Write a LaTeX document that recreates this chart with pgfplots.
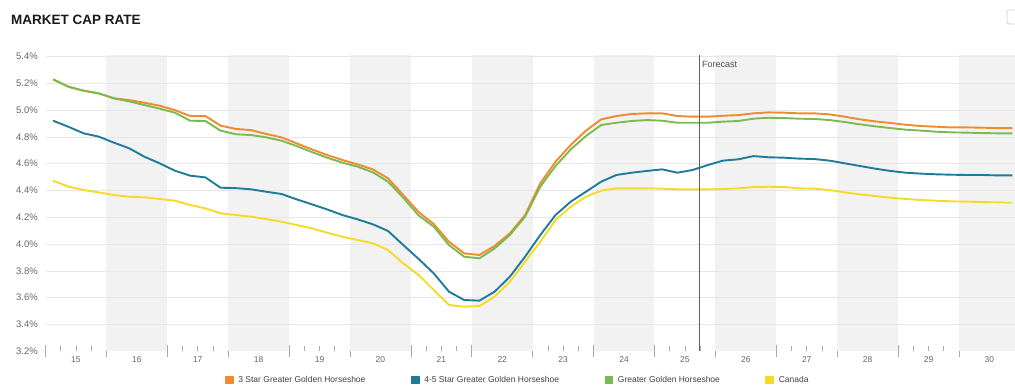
\documentclass[border=0pt]{standalone}
\usepackage{pgfplots}
\pgfplotsset{compat=1.18}
\usepackage{pgfplotstable}
\usepackage{fontspec}
\setmainfont{Liberation Sans}
\definecolor{cOr}{HTML}{F08A2C}
\definecolor{cBl}{HTML}{1F7B9A}
\definecolor{cGr}{HTML}{7BBA4F}
\definecolor{cYe}{HTML}{F6DB26}
\definecolor{band}{HTML}{F2F2F2}
\definecolor{gridc}{HTML}{E6E6E6}
\definecolor{tickc}{HTML}{666666}
\definecolor{tickl}{HTML}{AAAAAA}

\pgfplotstableread{
x o b g y
15.125 5.230 4.921 5.230 4.473
15.375 5.175 4.876 5.175 4.429
15.625 5.145 4.827 5.145 4.404
15.875 5.125 4.802 5.125 4.386
16.125 5.088 4.757 5.088 4.366
16.375 5.075 4.715 5.065 4.354
16.625 5.055 4.652 5.038 4.349
16.875 5.033 4.603 5.011 4.337
17.125 5.000 4.548 4.981 4.324
17.375 4.956 4.511 4.921 4.292
17.625 4.956 4.498 4.919 4.267
17.875 4.884 4.421 4.847 4.230
18.125 4.860 4.418 4.820 4.217
18.375 4.851 4.409 4.814 4.205
18.625 4.822 4.391 4.797 4.187
18.875 4.797 4.374 4.772 4.167
19.125 4.752 4.334 4.732 4.143
19.375 4.707 4.297 4.687 4.118
19.625 4.665 4.259 4.645 4.085
19.875 4.628 4.217 4.608 4.055
20.125 4.595 4.185 4.578 4.031
20.375 4.558 4.148 4.536 4.006
20.625 4.491 4.098 4.466 3.956
20.875 4.366 3.993 4.346 3.856
21.125 4.240 3.890 4.215 3.770
21.375 4.150 3.782 4.130 3.657
21.625 4.018 3.645 3.993 3.546
21.875 3.931 3.583 3.906 3.533
22.125 3.919 3.578 3.894 3.538
22.375 3.986 3.645 3.968 3.608
22.625 4.080 3.757 4.068 3.720
22.875 4.217 3.906 4.205 3.869
23.125 4.454 4.068 4.429 4.018
23.375 4.615 4.217 4.583 4.180
23.625 4.740 4.317 4.707 4.279
23.875 4.847 4.391 4.807 4.354
24.125 4.931 4.466 4.889 4.399
24.375 4.956 4.516 4.906 4.416
24.625 4.971 4.533 4.919 4.416
24.875 4.976 4.546 4.926 4.416
25.125 4.976 4.558 4.921 4.414
25.375 4.956 4.533 4.906 4.409
25.625 4.951 4.553 4.906 4.409
25.875 4.951 4.590 4.906 4.409
26.125 4.958 4.623 4.914 4.411
26.375 4.963 4.633 4.919 4.416
26.625 4.976 4.657 4.936 4.426
26.875 4.983 4.648 4.943 4.428
27.125 4.981 4.645 4.941 4.426
27.375 4.976 4.638 4.936 4.416
27.625 4.976 4.635 4.934 4.414
27.875 4.968 4.623 4.926 4.404
28.125 4.951 4.603 4.911 4.386
28.375 4.931 4.583 4.894 4.371
28.625 4.916 4.563 4.879 4.359
28.875 4.904 4.546 4.866 4.346
29.125 4.891 4.533 4.854 4.337
29.375 4.881 4.526 4.847 4.329
29.625 4.876 4.521 4.839 4.324
29.875 4.871 4.518 4.834 4.319
30.125 4.871 4.516 4.832 4.317
30.375 4.869 4.516 4.829 4.314
30.625 4.866 4.513 4.827 4.312
30.875 4.866 4.513 4.827 4.309
}\caprate

\begin{document}
\begin{tikzpicture}
\path[use as bounding box] (0bp,0bp) rectangle (1015bp,386bp);
\node[anchor=west, inner sep=0pt, font=\fontsize{13.5bp}{16bp}\selectfont\bfseries, text=black!90] at (11bp,366bp) {MARKET CAP RATE};
\draw[gray!35, line width=0.8bp, rounded corners=2bp] (1007bp,362bp) rectangle (1021bp,376bp);
\begin{axis}[
  at={(45.5bp,34.7bp)}, anchor=south west,
  scale only axis, width=969.5bp, height=296.1bp,
  xmin=15, xmax=30.92, ymin=3.2, ymax=5.41,
  axis line style={draw=none},
  xtick pos=bottom, ytick pos=left,
  /pgf/number format/assume math mode=true,
  ytick={3.2,3.4,3.6,3.8,4.0,4.2,4.4,4.6,4.8,5.0,5.2,5.4},
  yticklabel={\pgfmathprintnumber[fixed,fixed zerofill,precision=1]{\tick}\%},
  ytick style={draw=none},
  yticklabel style={font=\fontsize{9.5bp}{11bp}\selectfont, text=tickc, anchor=east, inner sep=0pt, xshift=-7.5bp},
  xtick={15.5,16.5,17.5,18.5,19.5,20.5,21.5,22.5,23.5,24.5,25.5,26.5,27.5,28.5,29.5,30.5},
  xticklabels={15,16,17,18,19,20,21,22,23,24,25,26,27,28,29,30},
  minor xtick={15.25,15.75,...,30.75},
  tick align=inside,
  major tick length=5.5bp, minor tick length=5.5bp,
  xtick style={color=tickl, line width=0.6bp},
  minor tick style={color=tickl, line width=0.6bp},
  xticklabel style={font=\fontsize{8.5bp}{10bp}\selectfont, text=tickc, anchor=north, inner sep=0pt, text height=6.1bp, text depth=0pt, yshift=-4.6bp},
  extra x ticks={15,16,17,18,19,20,21,22,23,24,25,26,27,28,29,30},
  extra x tick labels={},
  extra x tick style={major tick length=12.3bp, tick align=center, tick style={color=gray!65, line width=0.9bp}},
  legend columns=4,
  legend cell align=left,
  legend image code/.code={\fill[#1] (0bp,-3.5bp) rectangle (7bp,3.5bp);},
  legend style={draw=none, fill=none, inner sep=0pt, outer sep=0pt,
    at={(0.1851,-0.0969)}, anchor=west,
    font=\fontsize{8.5bp}{10bp}\selectfont, text=black!75,
    nodes={inner sep=1.5bp},
    /tikz/every odd column/.append style={column sep=3bp},
    /tikz/every even column/.append style={column sep=44bp}},
]
\fill[band] (axis cs:16,3.2) rectangle (axis cs:17,5.41);
\fill[band] (axis cs:18,3.2) rectangle (axis cs:19,5.41);
\fill[band] (axis cs:20,3.2) rectangle (axis cs:21,5.41);
\fill[band] (axis cs:22,3.2) rectangle (axis cs:23,5.41);
\fill[band] (axis cs:24,3.2) rectangle (axis cs:25,5.41);
\fill[band] (axis cs:26,3.2) rectangle (axis cs:27,5.41);
\fill[band] (axis cs:28,3.2) rectangle (axis cs:29,5.41);
\fill[band] (axis cs:30,3.2) rectangle (axis cs:30.92,5.41);
\pgfplotsinvokeforeach{3.4,3.6,3.8,4.0,4.2,4.4,4.6,4.8,5.0,5.2,5.4}{
  \draw[gridc, line width=0.8bp] (axis cs:15,#1) -- (axis cs:30.92,#1);
}
\addplot[color=cOr, line width=1.9bp, line join=round] table[x=x, y=o] {\caprate};
\addlegendentry{3 Star Greater Golden Horseshoe}
\addplot[color=cBl, line width=1.9bp, line join=round] table[x=x, y=b] {\caprate};
\addlegendentry{4-5 Star Greater Golden Horseshoe}
\addplot[color=cGr, line width=1.9bp, line join=round] table[x=x, y=g] {\caprate};
\addlegendentry{Greater Golden Horseshoe}
\addplot[color=cYe, line width=1.9bp, line join=round] table[x=x, y=y] {\caprate};
\addlegendentry{Canada}
\draw[color=gray!75!black, line width=0.8bp] (axis cs:25.73,3.2) -- (axis cs:25.73,5.41);
\node[anchor=west, inner sep=0pt, xshift=3bp, font=\fontsize{9bp}{10bp}\selectfont, text=black!70] at (axis cs:25.73,5.344) {Forecast};
\end{axis}
\end{tikzpicture}
\end{document}
